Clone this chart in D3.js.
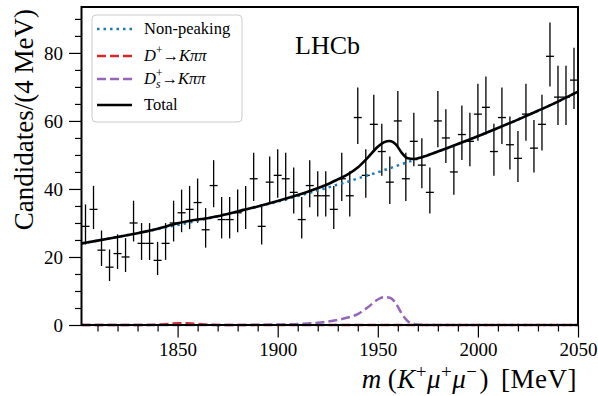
<!DOCTYPE html>
<html>
<head>
<meta charset="utf-8">
<script src="https://cdn.jsdelivr.net/npm/d3@7"></script>
<style>
  html, body { margin: 0; padding: 0; background: #fff; }
  svg { display: block; }
</style>
</head>
<body>
<div id="main"></div>
<script>
// bin centres (4 MeV bins) and candidate counts
const binCenters = [1804,1808,1812,1816,1820,1824,1828,1832,1836,1840,1844,1848,1852,1856,1860,1864,
  1868,1872,1876,1880,1884,1888,1892,1896,1900,1904,1908,1912,1916,1920,1924,1928,1932,1936,1940,1944,
  1948,1952,1956,1960,1964,1968,1972,1976,1980,1984,1988,1992,1996,2000,2004,2008,2012,2016,2020,2024,
  2028,2032,2036,2040,2044,2048];
const counts = [29,34,22,17,21,20,30,24,24,19,24,30,33,34,36,28,41,31,31,33,34,43,29,42,44,43,39,31,41,38,
  38,34,43,38,61,44,59,51,42,60,43,54,47,39,60,55,45,56,54,62,64,51,61,53,49,62,52,59,79,67,67,72];

// fit components, sampled along the mass axis
const massGrid = [1802,1810,1820,1830,1840,1845,1850,1855,1860,1865,1870,1880,1890,1900,1910,1915,1920,
  1925,1930,1935,1940,1945,1950,1953,1956,1959,1962,1965,1968,1972,1980,1990,2000,2010,2020,2030,2040,2050];
const bkgCurve = [24.0,24.8,25.9,27.0,28.2,28.8,29.4,30.0,30.7,31.3,32.0,33.4,34.8,36.3,37.9,38.7,39.6,
  40.4,41.3,42.1,43.1,44.0,44.9,45.5,46.1,46.7,47.3,47.9,48.5,49.3,51.0,53.2,55.5,57.9,60.4,63.0,65.7,68.6];
const dPlusCurve = [0,0,0,0,0.1,0.3,0.5,0.5,0.3,0.1,0,0,0,0,0,0,0,
  0,0,0,0,0,0,0,0,0,0,0,0,0,0,0,0,0,0,0,0,0];
const dsCurve = [0,0,0,0,0,0,0,0,0,0,0,0,0.05,0.15,0.3,0.45,0.65,
  1.0,1.5,2.2,3.2,5.2,7.5,8.2,8.0,6.4,3.3,1.1,0.3,0.05,0,0,0,0,0,0,0,0];
const totalCurve = [24.0,24.8,25.9,27.0,28.3,29.1,29.9,30.5,31.0,31.4,32.0,33.4,34.85,36.45,38.2,39.15,40.25,
  41.4,42.8,44.3,46.3,49.2,52.4,53.7,54.1,53.1,50.6,49.0,48.8,49.35,51.0,53.2,55.5,57.9,60.4,63.0,65.7,68.6];

const xMajor = [1850, 1900, 1950, 2000, 2050];
const xMinor = [1810,1820,1830,1840,1860,1870,1880,1890,1910,1920,1930,1940,1960,1970,1980,1990,2010,2020,2030,2040];
const yMajor = [0, 20, 40, 60, 80];
const yMinor = [5,10,15,25,30,35,45,50,55,65,70,75,85,90];

const W = 598, H = 396;
const margin = { top: 7, right: 20, bottom: 71, left: 81.5 };
const serif = "'Liberation Serif', 'DejaVu Serif', serif";

const svg = d3.select("#main").append("svg")
  .attr("width", W).attr("height", H)
  .style("font-family", serif);

const x = d3.scaleLinear().domain([1802, 2050]).range([margin.left, W - margin.right]);
const y = d3.scaleLinear().domain([0, 93.5]).range([H - margin.bottom, margin.top]);

// Poisson (Gehrels) intervals for the error bars
const errLo = n => n - n * Math.pow(1 - 1 / (9 * n) - 1 / (3 * Math.sqrt(n)), 3);
const errHi = n => Math.sqrt(n + 0.75) + 1;

const data = binCenters.map((m, i) => ({ m, n: counts[i] }));

// data points
const pts = svg.append("g").attr("stroke", "#000").attr("stroke-width", 1.3);
pts.selectAll("line.v").data(data).join("line")
  .attr("class", "v")
  .attr("x1", d => x(d.m)).attr("x2", d => x(d.m))
  .attr("y1", d => y(d.n - errLo(d.n))).attr("y2", d => y(d.n + errHi(d.n)));
pts.selectAll("line.h").data(data).join("line")
  .attr("class", "h")
  .attr("x1", d => x(d.m - 2)).attr("x2", d => x(d.m + 2))
  .attr("y1", d => y(d.n)).attr("y2", d => y(d.n));

// fit curves
const curve = vals => d3.line()
  .x((d, i) => x(massGrid[i]))
  .y(d => y(d))
  .curve(d3.curveMonotoneX)(vals);

svg.append("path").attr("d", curve(bkgCurve))
  .attr("fill", "none").attr("stroke", "#1f77b4").attr("stroke-width", 2.5)
  .attr("stroke-dasharray", "2.5,4");
svg.append("path").attr("d", curve(dPlusCurve))
  .attr("fill", "none").attr("stroke", "#d62728").attr("stroke-width", 2.5)
  .attr("stroke-dasharray", "9,4");
svg.append("path").attr("d", curve(dsCurve))
  .attr("fill", "none").attr("stroke", "#9467bd").attr("stroke-width", 2.5)
  .attr("stroke-dasharray", "9,4");
svg.append("path").attr("d", curve(totalCurve))
  .attr("fill", "none").attr("stroke", "#000").attr("stroke-width", 2.6);

// axes
const styleAxis = g => {
  g.select(".domain").remove();
  g.selectAll(".tick line").attr("stroke", "#000").attr("stroke-width", 1.2);
  g.selectAll(".tick text").attr("fill", "#000").style("font-family", serif).style("font-size", "19px");
};

svg.append("g")
  .attr("transform", `translate(0,${H - margin.bottom})`)
  .call(d3.axisBottom(x).tickValues(xMajor).tickSize(12.5).tickPadding(5).tickFormat(d3.format("d")))
  .call(styleAxis);
svg.append("g")
  .attr("transform", `translate(0,${H - margin.bottom})`)
  .call(d3.axisBottom(x).tickValues(xMinor).tickSize(6.5).tickFormat(""))
  .call(styleAxis);
svg.append("g")
  .attr("transform", `translate(${margin.left},0)`)
  .call(d3.axisLeft(y).tickValues(yMajor).tickSize(12.5).tickPadding(6))
  .call(styleAxis);
svg.append("g")
  .attr("transform", `translate(${margin.left},0)`)
  .call(d3.axisLeft(y).tickValues(yMinor).tickSize(6.5).tickFormat(""))
  .call(styleAxis);

// frame
svg.append("rect")
  .attr("x", margin.left).attr("y", margin.top)
  .attr("width", W - margin.right - margin.left)
  .attr("height", H - margin.bottom - margin.top)
  .attr("fill", "none").attr("stroke", "#000").attr("stroke-width", 2);

// axis titles
svg.append("text")
  .attr("transform", `translate(33,${margin.top + 2}) rotate(-90)`)
  .attr("text-anchor", "end")
  .style("font-size", "27px")
  .text("Candidates/(4 MeV)");

const xl = svg.append("text")
  .attr("x", W - margin.right - 1).attr("y", 388)
  .attr("text-anchor", "end")
  .style("font-size", "27px")
  .style("letter-spacing", "0.5px");
xl.append("tspan").style("font-style", "italic").text("m");
xl.append("tspan").attr("dx", 6).text("(");
xl.append("tspan").style("font-style", "italic").text("K");
xl.append("tspan").attr("dy", -10).style("font-size", "19px").text("+");
xl.append("tspan").attr("dy", 10).style("font-style", "italic").text("μ");
xl.append("tspan").attr("dy", -10).style("font-size", "19px").text("+");
xl.append("tspan").attr("dy", 10).style("font-style", "italic").text("μ");
xl.append("tspan").attr("dy", -10).style("font-size", "19px").text("−");
xl.append("tspan").attr("dy", 10).attr("dx", 2).text(")");
xl.append("tspan").attr("dx", 12).text("[MeV]");

// LHCb label
svg.append("text")
  .attr("x", 295).attr("y", 54)
  .style("font-size", "26px")
  .text("LHCb");

// legend
const lg = svg.append("g");
lg.append("rect")
  .attr("x", 92).attr("y", 15).attr("width", 150).attr("height", 107).attr("rx", 4)
  .attr("fill", "#fff").attr("fill-opacity", 0.8)
  .attr("stroke", "#cccccc").attr("stroke-width", 1);

const legendItems = [
  { y: 29, color: "#1f77b4", dash: "2.5,4" },
  { y: 56, color: "#d62728", dash: "9,4" },
  { y: 79, color: "#9467bd", dash: "9,4" },
  { y: 105, color: "#000", dash: null }
];
legendItems.forEach(d => {
  lg.append("line")
    .attr("x1", 97).attr("x2", 132).attr("y1", d.y).attr("y2", d.y)
    .attr("stroke", d.color).attr("stroke-width", 2.5)
    .attr("stroke-dasharray", d.dash);
});

const lt = (yy) => lg.append("text").attr("x", 144).attr("y", yy).style("font-size", "16.5px");
lt(34).text("Non-peaking");

const t2 = lt(61);
t2.append("tspan").style("font-style", "italic").text("D");
t2.append("tspan").attr("dy", -7).style("font-size", "11.5px").text("+");
t2.append("tspan").attr("dy", 7).text("→");
t2.append("tspan").style("font-style", "italic").text("Kππ");

const t3 = lt(84);
t3.append("tspan").style("font-style", "italic").text("D");
t3.append("tspan").attr("dy", -7).style("font-size", "11.5px").text("+");
t3.append("tspan").attr("dx", -6.5).attr("dy", 11).style("font-size", "11.5px").style("font-style", "italic").text("s");
t3.append("tspan").attr("dx", 1).attr("dy", -4).text("→");
t3.append("tspan").style("font-style", "italic").text("Kππ");

lt(110).text("Total");
</script>
</body>
</html>
